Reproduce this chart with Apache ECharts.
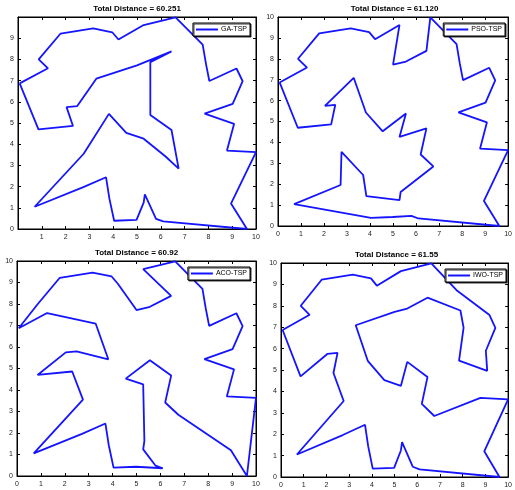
<!DOCTYPE html>
<html>
<head>
<meta charset="utf-8">
<script src="https://cdn.jsdelivr.net/npm/echarts@6/dist/echarts.min.js"></script>
<style>
html,body{margin:0;padding:0;background:#fff;}
#chart{width:515px;height:490px;}
</style>
</head>
<body>
<div id="chart"></div>
<script>
// City coordinates (shared by all four tours)
const cityX = [0.07,0.86,2.31,2.04,2.49,3.29,5.00,6.45,5.56,5.56,6.45,6.20,6.75,5.28,4.55,3.82,2.76,0.70,2.72,3.70,3.84,4.04,4.98,5.28,5.33,5.80,6.10,9.62,8.95,10.00,8.78,9.08,7.84,9.02,9.44,9.18,8.04,7.90,7.76,6.62,5.28,4.22,3.96,3.16,1.79,0.87,1.26];
const cityY = [6.87,4.70,4.86,5.75,5.80,7.09,7.72,8.38,7.87,5.38,4.67,3.42,2.85,4.26,4.53,5.43,3.55,1.05,1.96,2.44,1.43,0.39,0.43,1.24,1.63,0.48,0.36,0.00,1.20,3.63,3.70,4.96,5.44,5.90,6.97,7.57,6.98,7.78,8.70,9.98,9.62,8.94,9.28,9.46,9.22,8.00,7.58];

// Visiting orders of each algorithm
const gaTour  = [0,1,2,3,4,5,6,7,8,9,10,12,11,13,14,15,16,17,18,19,20,21,22,23,24,25,26,27,28,29,30,31,32,33,34,35,36,37,38,39,40,41,42,43,44,45,46,0];
const psoTour = [0,1,2,4,3,5,15,14,9,13,10,11,12,24,23,20,19,16,18,17,21,22,25,26,27,28,29,30,31,32,33,34,35,36,37,38,39,7,8,6,40,41,42,43,44,45,46,0];
const acoTour = [0,46,5,15,4,3,1,2,16,17,18,19,20,21,22,26,25,23,24,13,14,9,10,11,12,28,27,29,30,31,32,33,34,35,36,37,38,39,40,7,8,6,41,42,43,44,45,0];
const iwoTour = [0,1,3,4,2,16,17,18,19,20,21,22,23,24,25,26,27,28,29,30,12,11,10,9,13,14,15,5,6,8,7,37,36,32,31,33,34,35,38,39,40,41,42,43,44,45,46,0];

const tours = [gaTour, psoTour, acoTour, iwoTour];
const seriesNames = ['GA-TSP','PSO-TSP','ACO-TSP','IWO-TSP'];
const titleTexts = ['Total Distance = 60.251','Total Distance = 61.120','Total Distance = 60.92','Total Distance = 61.55'];
const axisMin = 0, axisMax = 10, axisStep = 1;

const gridBoxes = [
  {left:18, top:17, width:238, height:212},
  {left:278, top:17, width:233, height:209},
  {left:17, top:261, width:239, height:215},
  {left:281, top:263, width:231, height:214}
];

const lineColor = '#1414ff';
const labelStyle = {fontSize:7, color:'#222', fontFamily:'Liberation Sans, Arial, sans-serif'};
const tickStyle = {show:true, inside:true, length:3, lineStyle:{color:'#000', width:1}};
const lineAx = {show:true, onZero:false, lineStyle:{color:'#000', width:1}};

const grid = [], xAxis = [], yAxis = [], series = [], title = [], legend = [];
gridBoxes.forEach((g, i) => {
  grid.push({left:g.left, top:g.top, width:g.width, height:g.height, show:true, borderColor:'#000', borderWidth:1, backgroundColor:'#fff'});
  title.push({
    text: titleTexts[i], left: g.left + g.width/2, top: g.top - 12, textAlign:'center', padding:0,
    textStyle:{fontSize:8, fontWeight:'bold', color:'#000', fontFamily:'Liberation Sans, Arial, sans-serif'}
  });
  legend.push({
    data:[{name:seriesNames[i], icon:'rect'}], right: 515 - (g.left + g.width) + 6, top: g.top + 6,
    orient:'horizontal', itemWidth:22, itemHeight:2, itemGap:2,
    padding:[3,3,3,3], borderColor:'#000', borderWidth:1, backgroundColor:'#fff',
    shadowColor:'rgba(0,0,0,0.8)', shadowOffsetX:1, shadowOffsetY:1, shadowBlur:0,
    itemStyle:{color:lineColor},
    textStyle:{fontSize:7, color:'#000', fontFamily:'Liberation Sans, Arial, sans-serif', padding:[0,0,0,-2]}
  });
});
gridBoxes.forEach((g, i) => {
  xAxis.push({type:'value', gridIndex:i, position:'bottom', min:axisMin, max:axisMax, interval:axisStep,
    axisLine:lineAx, axisTick:tickStyle, splitLine:{show:false},
    axisLabel:Object.assign({margin:5, showMinLabel: i !== 0}, labelStyle)});
});
gridBoxes.forEach((g, i) => {
  xAxis.push({type:'value', gridIndex:i, position:'top', min:axisMin, max:axisMax, interval:axisStep,
    axisLine:lineAx, axisTick:tickStyle, splitLine:{show:false}, axisLabel:{show:false}});
});
gridBoxes.forEach((g, i) => {
  yAxis.push({type:'value', gridIndex:i, position:'left', min:axisMin, max:axisMax, interval:axisStep,
    axisLine:lineAx, axisTick:tickStyle, splitLine:{show:false},
    axisLabel:Object.assign({margin:4, showMaxLabel: i !== 0}, labelStyle)});
});
gridBoxes.forEach((g, i) => {
  yAxis.push({type:'value', gridIndex:i, position:'right', min:axisMin, max:axisMax, interval:axisStep,
    axisLine:lineAx, axisTick:tickStyle, splitLine:{show:false}, axisLabel:{show:false}});
});
tours.forEach((t, i) => {
  series.push({
    name: seriesNames[i], type:'line', xAxisIndex:i, yAxisIndex:i,
    data: t.map(k => [cityX[k], cityY[k]]),
    showSymbol:false, symbol:'none', smooth:false,
    lineStyle:{color:lineColor, width:1.8}, itemStyle:{color:lineColor},
    animation:false
  });
});

const chart = echarts.init(document.getElementById('chart'), null, {renderer:'canvas'});
chart.setOption({backgroundColor:'#fff', animation:false, title, legend, grid, xAxis, yAxis, series});
</script>
</body>
</html>
